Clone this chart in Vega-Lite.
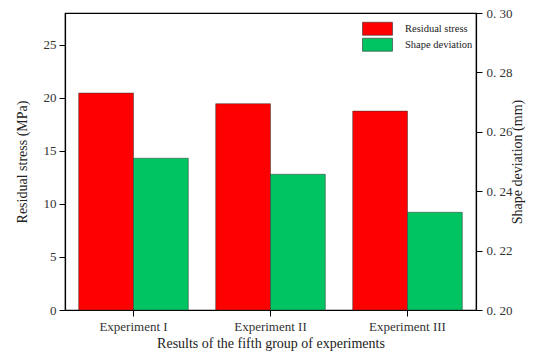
{
  "$schema": "https://vega.github.io/schema/vega-lite/v6.json",
  "width": 411,
  "height": 297,
  "autosize": "none",
  "padding": {"left": 65, "top": 13, "right": 74, "bottom": 52},
  "config": {
    "font": "Liberation Serif",
    "view": {"stroke": "#000", "strokeWidth": 1.2},
    "legend": {"labelFont": "Liberation Serif"},
    "axis": {"domainColor": "#000", "tickColor": "#000", "labelColor": "#333", "titleColor": "#222", "labelFont": "Liberation Serif", "titleFont": "Liberation Serif", "titleFontWeight": "normal", "grid": false, "labelFontSize": 13, "titleFontSize": 14, "tickSize": 6}
  },
  "data": {
    "values": [
      {"experiment": "Experiment I", "series": "Residual stress", "value": 20.45},
      {"experiment": "Experiment II", "series": "Residual stress", "value": 19.45},
      {"experiment": "Experiment III", "series": "Residual stress", "value": 18.75},
      {"experiment": "Experiment I", "series": "Shape deviation", "value": 0.2511},
      {"experiment": "Experiment II", "series": "Shape deviation", "value": 0.2457},
      {"experiment": "Experiment III", "series": "Shape deviation", "value": 0.2329}
    ]
  },
  "encoding": {
    "x": {
      "field": "experiment", "type": "nominal", "sort": null,
      "scale": {"paddingInner": 0.2, "paddingOuter": 0.1},
      "axis": {"title": "Results of the fifth group of experiments", "labelAngle": 0, "labelPadding": 4, "titlePadding": 3, "domainWidth": 1.2}
    },
    "xOffset": {"field": "series", "type": "nominal", "scale": {"domain": ["Residual stress", "Shape deviation"], "paddingInner": 0, "paddingOuter": 0}},
    "color": {
      "field": "series", "type": "nominal",
      "scale": {"domain": ["Residual stress", "Shape deviation"], "range": ["#ff0000", "#00c462"]},
      "legend": {"title": null, "orient": "none", "legendX": 297, "legendY": 8, "symbolType": "M-1,-0.433H1V0.433H-1Z", "symbolSize": 900, "symbolStrokeColor": "#333", "symbolStrokeWidth": 0.6, "labelFontSize": 10.5, "labelColor": "#222", "rowPadding": 0, "labelOffset": 12, "clipHeight": 15.5}
    }
  },
  "layer": [
    {
      "transform": [{"filter": "datum.series === 'Residual stress'"}],
      "mark": {"type": "bar", "stroke": "#333", "strokeWidth": 0.5},
      "encoding": {
        "y": {
          "field": "value", "type": "quantitative",
          "scale": {"domain": [0, 28], "nice": false},
          "axis": {"title": "Residual stress (MPa)", "values": [0, 5, 10, 15, 20, 25], "titlePadding": 14, "labelPadding": 3, "domainWidth": 1.2}
        }
      }
    },
    {
      "transform": [{"filter": "datum.series === 'Shape deviation'"}],
      "mark": {"type": "bar", "stroke": "#333", "strokeWidth": 0.5},
      "encoding": {
        "y": {
          "field": "value", "type": "quantitative",
          "scale": {"domain": [0.2, 0.3], "nice": false, "zero": false},
          "axis": {"title": "Shape deviation (mm)", "orient": "right", "values": [0.2, 0.22, 0.24, 0.26, 0.28, 0.3], "labelExpr": "replace(format(datum.value, '.2f'), '.', '. ')", "titleAngle": 270, "titlePadding": 12, "labelPadding": 4, "domainWidth": 1.2}
        },
        "y2": {"datum": 0.2}
      }
    }
  ],
  "resolve": {"scale": {"y": "independent"}, "axis": {"y": "independent"}}
}
